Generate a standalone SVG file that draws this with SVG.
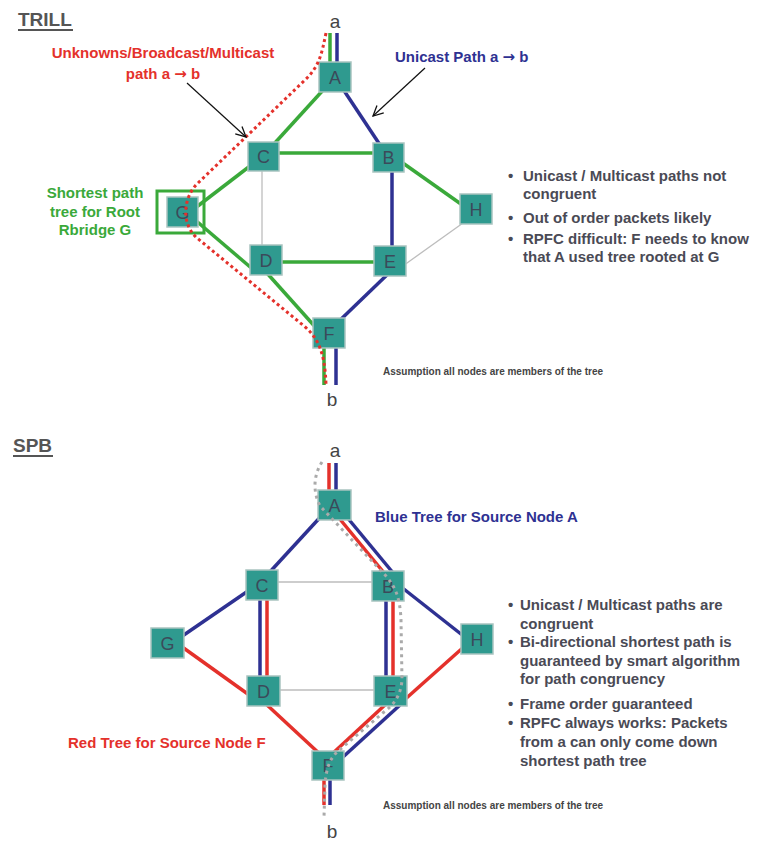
<svg xmlns="http://www.w3.org/2000/svg" width="768" height="850" viewBox="0 0 768 850">
<defs>
<style>
.node rect{fill:#2f9a8f;stroke:#a9c4c0;stroke-width:1.5}
.node text{font-family:"Liberation Sans",Arial,sans-serif;font-size:18px;fill:#3b4a5a;text-anchor:middle}
.t{font-family:"Liberation Sans",Arial,sans-serif;font-weight:bold}
.arw{font-family:"DejaVu Sans",sans-serif;font-weight:bold}
.title{font-size:19px;fill:#555}
.bul{font-size:15px;fill:#4a4a55}
.lbl{font-size:15px}
.ab{font-family:"Liberation Sans",Arial,sans-serif;font-size:19px;fill:#444;text-anchor:middle}
.asm{font-size:10px;fill:#444}
.g{stroke:#3aa93a;stroke-width:3.5;fill:none}
.bl{stroke:#2e3192;stroke-width:3.5;fill:none}
.rd{stroke:#e4312b;stroke-width:3.5;fill:none}
.gr{stroke:#bdbdbd;stroke-width:1.3;fill:none}
.rdot{stroke:#e4312b;stroke-width:3;fill:none;stroke-dasharray:3 3}
.gdot{stroke:#aaaaaa;stroke-width:3;fill:none;stroke-dasharray:3 4}
.ann{stroke:#111;stroke-width:1.2;fill:none}
</style>
<marker id="arr" viewBox="0 0 12 12" refX="11" refY="6" markerWidth="12" markerHeight="12" markerUnits="userSpaceOnUse" orient="auto">
<polyline points="1,1 11,6 1,11" fill="none" stroke="#111" stroke-width="1.3"/>
</marker>
</defs>
<rect width="768" height="850" fill="#fff"/>

<!-- Titles -->
<text class="t title" x="18" y="26">TRILL</text>
<line x1="18" y1="30" x2="73" y2="30" stroke="#555" stroke-width="2"/>
<text class="t title" x="13" y="452">SPB</text>
<line x1="13" y1="456" x2="53" y2="456" stroke="#555" stroke-width="2"/>

<!-- TRILL connectors -->
<g id="trill-connectors">
<line class="g" x1="330" y1="33" x2="330" y2="64"/>
<line class="bl" x1="337" y1="33" x2="337" y2="64"/>
<line class="g" x1="335" y1="77" x2="263" y2="156"/>
<line class="bl" x1="335" y1="77" x2="388" y2="157"/>
<line class="g" x1="275" y1="153" x2="380" y2="153"/>
<line class="gr" x1="262" y1="168" x2="262" y2="250"/>
<line class="g" x1="250" y1="166" x2="190" y2="212"/>
<line class="g" x1="194" y1="219" x2="256" y2="272"/>
<line class="g" x1="400" y1="161" x2="468" y2="209"/>
<line class="bl" x1="392" y1="165" x2="392" y2="250"/>
<line class="g" x1="275" y1="262" x2="385" y2="262"/>
<line class="gr" x1="400" y1="268" x2="470" y2="218"/>
<line class="g" x1="266" y1="272" x2="318" y2="330"/>
<line class="bl" x1="390" y1="272" x2="335" y2="325"/>
<line class="g" x1="324" y1="345" x2="324" y2="385"/>
<line class="bl" x1="336" y1="345" x2="336" y2="385"/>
<rect x="157" y="191" width="47" height="42" fill="none" stroke="#3aa93a" stroke-width="3"/>
</g>

<!-- TRILL nodes -->
<g id="trill-A" class="node"><rect x="319" y="62" width="32" height="30"/><text x="335" y="83.5">A</text></g>
<g id="trill-C" class="node"><rect x="248" y="142" width="31" height="29"/><text x="263.5" y="163">C</text></g>
<g id="trill-B" class="node"><rect x="373" y="143" width="31" height="29"/><text x="388.5" y="164">B</text></g>
<g id="trill-H" class="node"><rect x="460" y="194" width="32" height="30"/><text x="476" y="215.5">H</text></g>
<g id="trill-G" class="node"><rect x="167" y="197" width="31" height="30"/><text x="182.5" y="218.5">G</text></g>
<g id="trill-D" class="node"><rect x="250" y="245" width="32" height="30"/><text x="266" y="266.5">D</text></g>
<g id="trill-E" class="node"><rect x="374" y="246" width="32" height="30"/><text x="390" y="267.5">E</text></g>
<g id="trill-F" class="node"><rect x="313" y="318" width="32" height="30"/><text x="329" y="339.5">F</text></g>

<!-- TRILL overlay: red dotted multicast path & annotations -->
<g id="trill-overlay">
<path class="rdot" d="M326,33 C322,52 320,66 305,80 L197,184 C183,198 181,224 197,238 L304,326 C318,338 325,352 326,385"/>
<line class="ann" x1="187" y1="83" x2="246" y2="137" marker-end="url(#arr)"/>
<line class="ann" x1="425" y1="68" x2="373" y2="116" marker-end="url(#arr)"/>
</g>

<text class="ab" x="335" y="28">a</text>
<text class="ab" x="332" y="406">b</text>

<g id="trill-labels">
<text class="t lbl" fill="#e4312b" text-anchor="middle" x="163" y="58">Unknowns/Broadcast/Multicast</text>
<text class="t lbl" fill="#e4312b" text-anchor="middle" x="163" y="79">path a <tspan class="arw">→</tspan> b</text>
<text class="t lbl" fill="#2e3192" x="395" y="62">Unicast Path a <tspan class="arw">→</tspan> b</text>
<text class="t lbl" fill="#3aa93a" text-anchor="middle" x="95" y="198">Shortest path</text>
<text class="t lbl" fill="#3aa93a" text-anchor="middle" x="95" y="217">tree for Root</text>
<text class="t lbl" fill="#3aa93a" text-anchor="middle" x="95" y="235">Rbridge G</text>
</g>

<g id="trill-bullets" class="t bul">
<text x="508" y="181">•</text><text x="523" y="181">Unicast / Multicast paths not</text>
<text x="523" y="199">congruent</text>
<text x="508" y="223">•</text><text x="523" y="223">Out of order packets likely</text>
<text x="508" y="244">•</text><text x="523" y="244">RPFC difficult: F needs to know</text>
<text x="523" y="262">that A used tree rooted at G</text>
</g>
<text class="t asm" x="383" y="375">Assumption all nodes are members of the tree</text>

<!-- SPB connectors -->
<g id="spb-connectors">
<line class="rd" x1="329" y1="463" x2="329" y2="492"/>
<line class="bl" x1="336" y1="463" x2="336" y2="492"/>
<line class="bl" x1="325" y1="512" x2="268" y2="574"/>
<line class="rd" x1="339" y1="518" x2="385" y2="574"/>
<line class="bl" x1="346" y1="516" x2="394" y2="574"/>
<line class="gr" x1="276" y1="582" x2="374" y2="582"/>
<line class="bl" x1="260" y1="598" x2="260" y2="678"/>
<line class="rd" x1="267" y1="598" x2="267" y2="678"/>
<line class="bl" x1="386" y1="598" x2="386" y2="678"/>
<line class="rd" x1="393" y1="598" x2="393" y2="678"/>
<line class="bl" x1="248" y1="591" x2="178" y2="639"/>
<line class="bl" x1="400" y1="586" x2="466" y2="638"/>
<line class="rd" x1="178" y1="644" x2="252" y2="697"/>
<line class="gr" x1="278" y1="690" x2="376" y2="690"/>
<line class="rd" x1="402" y1="702" x2="466" y2="645"/>
<line class="rd" x1="266" y1="704" x2="322" y2="756"/>
<line class="rd" x1="386" y1="704" x2="332" y2="754"/>
<line class="bl" x1="400" y1="705" x2="343" y2="757"/>
<line class="rd" x1="324" y1="778" x2="324" y2="805"/>
<line class="bl" x1="330" y1="778" x2="330" y2="805"/>
</g>

<!-- SPB nodes -->
<g id="spb-A" class="node"><rect x="318" y="490" width="33" height="30"/><text x="334.5" y="511.5">A</text></g>
<g id="spb-C" class="node"><rect x="246" y="570" width="32" height="30"/><text x="262" y="591.5">C</text></g>
<g id="spb-B" class="node"><rect x="372" y="571" width="32" height="30"/><text x="388" y="592.5">B</text></g>
<g id="spb-G" class="node"><rect x="151" y="628" width="33" height="30"/><text x="167.5" y="649.5">G</text></g>
<g id="spb-H" class="node"><rect x="461" y="624" width="32" height="30"/><text x="477" y="645.5">H</text></g>
<g id="spb-D" class="node"><rect x="247" y="676" width="33" height="30"/><text x="263.5" y="697.5">D</text></g>
<g id="spb-E" class="node"><rect x="374" y="676" width="33" height="30"/><text x="390.5" y="697.5">E</text></g>
<g id="spb-F" class="node"><rect x="312" y="751" width="32" height="29"/><text x="328" y="772">F</text></g>

<!-- SPB overlay: gray dotted path -->
<g id="spb-overlay">
<path class="gdot" d="M322,462 C313,476 313,492 320,506 L386,576 C396,588 400,598 401,620 L402,680 C401,694 395,704 384,712 L337,752 C329,760 326,770 325,785 L324,817"/>
</g>

<text class="ab" x="335" y="457">a</text>
<text class="ab" x="332" y="838">b</text>

<g id="spb-labels">
<text class="t lbl" fill="#2e3192" x="375" y="522">Blue Tree for Source Node A</text>
<text class="t lbl" fill="#e4312b" x="68" y="748">Red Tree for Source Node F</text>
</g>

<g id="spb-bullets" class="t bul">
<text x="508" y="610">•</text><text x="520" y="610">Unicast / Multicast paths are</text>
<text x="520" y="629">congruent</text>
<text x="508" y="647">•</text><text x="520" y="647">Bi-directional shortest path is</text>
<text x="520" y="666">guaranteed by smart algorithm</text>
<text x="520" y="684">for path congruency</text>
<text x="508" y="709">•</text><text x="520" y="709">Frame order guaranteed</text>
<text x="508" y="728">•</text><text x="520" y="728">RPFC always works: Packets</text>
<text x="520" y="747">from a can only come down</text>
<text x="520" y="766">shortest path tree</text>
</g>
<text class="t asm" x="383" y="809">Assumption all nodes are members of the tree</text>
</svg>
